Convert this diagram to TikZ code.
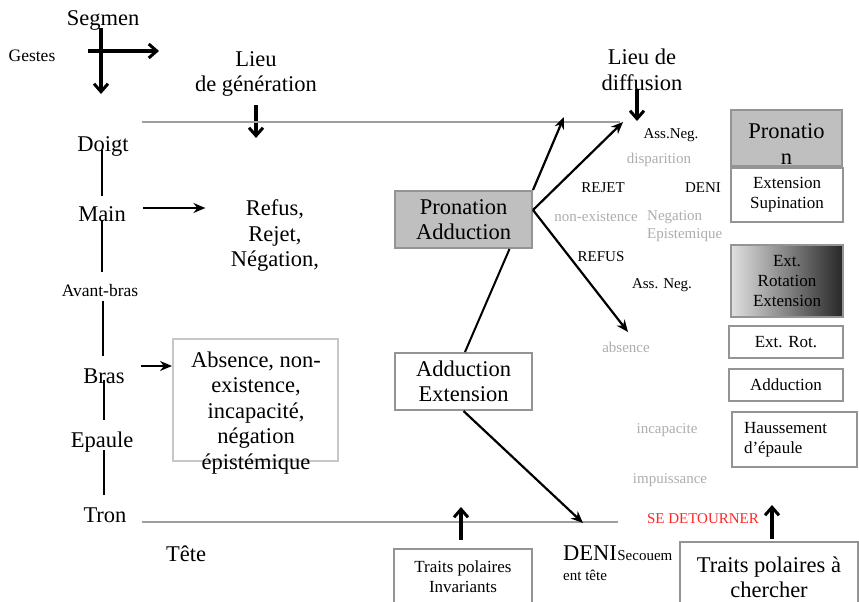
\documentclass[tikz,border=0pt]{standalone}
\usepackage{fontspec}
\setmainfont{Liberation Serif}
\usetikzlibrary{arrows.meta}

\begin{document}
\begin{tikzpicture}[x=1pt, y=-1pt,
    bigtext/.style={font=\fontsize{22.5}{25.5}\selectfont, align=center},
    midtext/.style={font=\fontsize{17}{20}\selectfont, align=center},
    labeltext/.style={font=\fontsize{17.5}{21}\selectfont},
    smalltext/.style={font=\fontsize{15}{18}\selectfont, align=center},
    greytext/.style={smalltext, text=black!32},
    box/.style={draw=black!42, line width=2pt, inner sep=0pt},
    fat/.style={line width=3.6pt, -{Straight Barb[length=8pt,width=14pt,line width=3pt]}},
    slim/.style={line width=2.2pt, -{Stealth[length=12pt,width=10pt]}},
    link/.style={line width=2pt},
    ground/.style={draw=black!38, line width=2pt}]
  \useasboundingbox (0,0) rectangle (859,602);

  % segments du corps
  \node[bigtext] (segmen) at (103,20) {Segmen};
  \node[labeltext] (gestes) at (32,56) {Gestes};
  \coordinate (crossTop) at (101,28);
  \coordinate (crossDown) at (101,94);
  \coordinate (crossLeft) at (88,51);
  \coordinate (crossRight) at (159,51);
  \draw[fat] (crossTop) -- (crossDown);
  \draw[fat] (crossLeft) -- (crossRight);

  \node[bigtext] (doigt) at (103,146) {Doigt};
  \node[bigtext] (main) at (102,214) {Main};
  \node[labeltext] (avant) at (100,291) {Avant-bras};
  \node[bigtext] (bras) at (104,376) {Bras};
  \node[bigtext] (epaule) at (102,442) {Epaule};
  \node[bigtext] (tron) at (105,515) {Tron};
  \node[bigtext] (tete) at (186,554) {Tête};

  \draw[link] ([xshift=-1pt,yshift=-4pt]doigt.center) -- ([yshift=7pt]main.north);
  \draw[link] ([yshift=-6pt]main.center) -- ([xshift=2pt,yshift=9pt]avant.north);
  \draw[link] ([xshift=3pt]avant.south) -- ([xshift=-1pt,yshift=9pt]bras.north);
  \draw[link] ([yshift=-4pt]bras.center) -- ([xshift=2pt,yshift=8pt]epaule.north);
  \draw[link] ([xshift=2pt,yshift=-8pt]epaule.center) -- ([xshift=-1pt,yshift=9pt]tron.north);

  % lieu de generation
  \node[bigtext] (lieugen) at (256,74) {Lieu\\de génération};
  \coordinate (genTip) at (256,138);
  \draw[fat, shorten <=5pt] (lieugen.south) -- (genTip);
  \coordinate (topLeft) at (142,122);
  \coordinate (topRight) at (620,122);
  \draw[ground] (topLeft) -- (topRight);
  \coordinate (lowLeft) at (142,522);
  \coordinate (lowRight) at (618,522);
  \draw[ground] (lowLeft) -- (lowRight);

  \node[bigtext] (refus) at (275,236) {Refus,\\Rejet,\\Négation,};
  \draw[slim, shorten <=14pt, shorten >=22pt] ([yshift=6pt]main.east) -- ([yshift=6pt]main.east -| refus.west);

  \node[box, draw=black!22, minimum width=165pt, minimum height=122pt] (absbox) at (255.5,400) {};
  \node[bigtext] (abstext) at (256,413) {Absence, non-\\existence,\\incapacité,\\négation\\épistémique};
  \draw[slim, shorten <=13pt] ([yshift=10pt]bras.east) -- ([yshift=10pt]bras.east -| absbox.west);

  % mouvements
  \node[box, fill=black!25, minimum width=137pt, minimum height=57pt, bigtext] (pronad) at (463.5,219.5) {Pronation\\Adduction};
  \node[box, minimum width=137pt, minimum height=57pt, bigtext] (adext) at (463.5,381.5) {Adduction\\Extension};
  \draw[link] ([xshift=46pt]pronad.south) -- ([xshift=1.5pt]adext.north);

  \coordinate (tipA) at (564,117);
  \coordinate (tipB) at (623,122);
  \coordinate (tipC) at (628,332);
  \coordinate (tipD) at (583,523);
  \draw[slim] (pronad.north east) -- (tipA);
  \draw[slim] ([yshift=9.5pt]pronad.east) -- (tipB);
  \draw[slim] ([yshift=9.5pt]pronad.east) -- (tipC);
  \draw[slim] (adext.south) -- (tipD);

  % lieu de diffusion
  \node[bigtext] (lieudif) at (642,70) {Lieu de\\diffusion};
  \coordinate (difTip) at (637,121);
  \draw[fat, shorten <=-5pt] ([xshift=-5pt]lieudif.south) -- (difTip);

  \node[smalltext] (assneg) at (671,135) {Ass.Neg.};
  \node[greytext] (dispar) at (659,160) {disparition};
  \node[smalltext] (rejet) at (603,188) {REJET};
  \node[smalltext] (deniup) at (703,188) {DENI};
  \node[greytext] (nonexist) at (596,217) {non-existence};
  \node[greytext, anchor=west, align=left, inner sep=0pt] (negepi) at (647,226) {Negation\\Epistemique};
  \node[smalltext] (refuslbl) at (601,257) {REFUS};
  \node[smalltext] (assneglow) at (662,285) {Ass. Neg.};
  \node[greytext] (absence) at (626,347) {absence};
  \node[greytext] (incap) at (667,430) {incapacite};
  \node[greytext] (impuis) at (670,480) {impuissance};
  \node[smalltext, text=red!85] (detour) at (703,519) {SE DETOURNER};

  % colonne de droite
  \node[box, fill=black!25, minimum width=111pt, minimum height=56pt] (pronbox) at (786.5,138) {};
  \node[bigtext] (prontext) at (786.5,144) {Pronatio\\n};
  \node[box, minimum width=112pt, minimum height=54pt, midtext] (extsup) at (787,195) {Extension\\Supination};
  \node[box, left color=black!12, right color=black!85, minimum width=112pt, minimum height=72pt, midtext] (extrot) at (787,281) {Ext.\\Rotation\\Extension};
  \node[box, minimum width=114pt, minimum height=32pt, midtext] (extrotb) at (786,342) {Ext. Rot.};
  \node[box, minimum width=114pt, minimum height=32pt, midtext] (adduc) at (786,385) {Adduction};
  \node[box, minimum width=125pt, minimum height=55pt, midtext, text width=101pt, align=left] (hauss) at (794.5,439.5) {Haussement\\d’épaule};

  % traits polaires
  \node[box, minimum width=138pt, minimum height=56pt, midtext] (tpinv) at (463,577) {Traits polaires\\Invariants};
  \coordinate (tpTip) at (461,507);
  \draw[fat, shorten <=8pt] ([xshift=-2pt]tpinv.north) -- (tpTip);

  \node[box, minimum width=178pt, minimum height=71pt, bigtext] (tpch) at (769,577.5) {Traits polaires à\\chercher};
  \coordinate (chTip) at (772,505);
  \draw[fat, shorten <=2pt] ([xshift=3pt]tpch.north) -- (chTip);

  \node[bigtext, anchor=base west, inner sep=0pt] (denibig) at (563,560) {DENI};
  \node[smalltext, anchor=base west, inner sep=0pt] (secou) at (denibig.base east) {Secouem};
  \node[smalltext, anchor=base west, inner sep=0pt] (enttete) at (563,580) {ent tête};
\end{tikzpicture}
\end{document}
